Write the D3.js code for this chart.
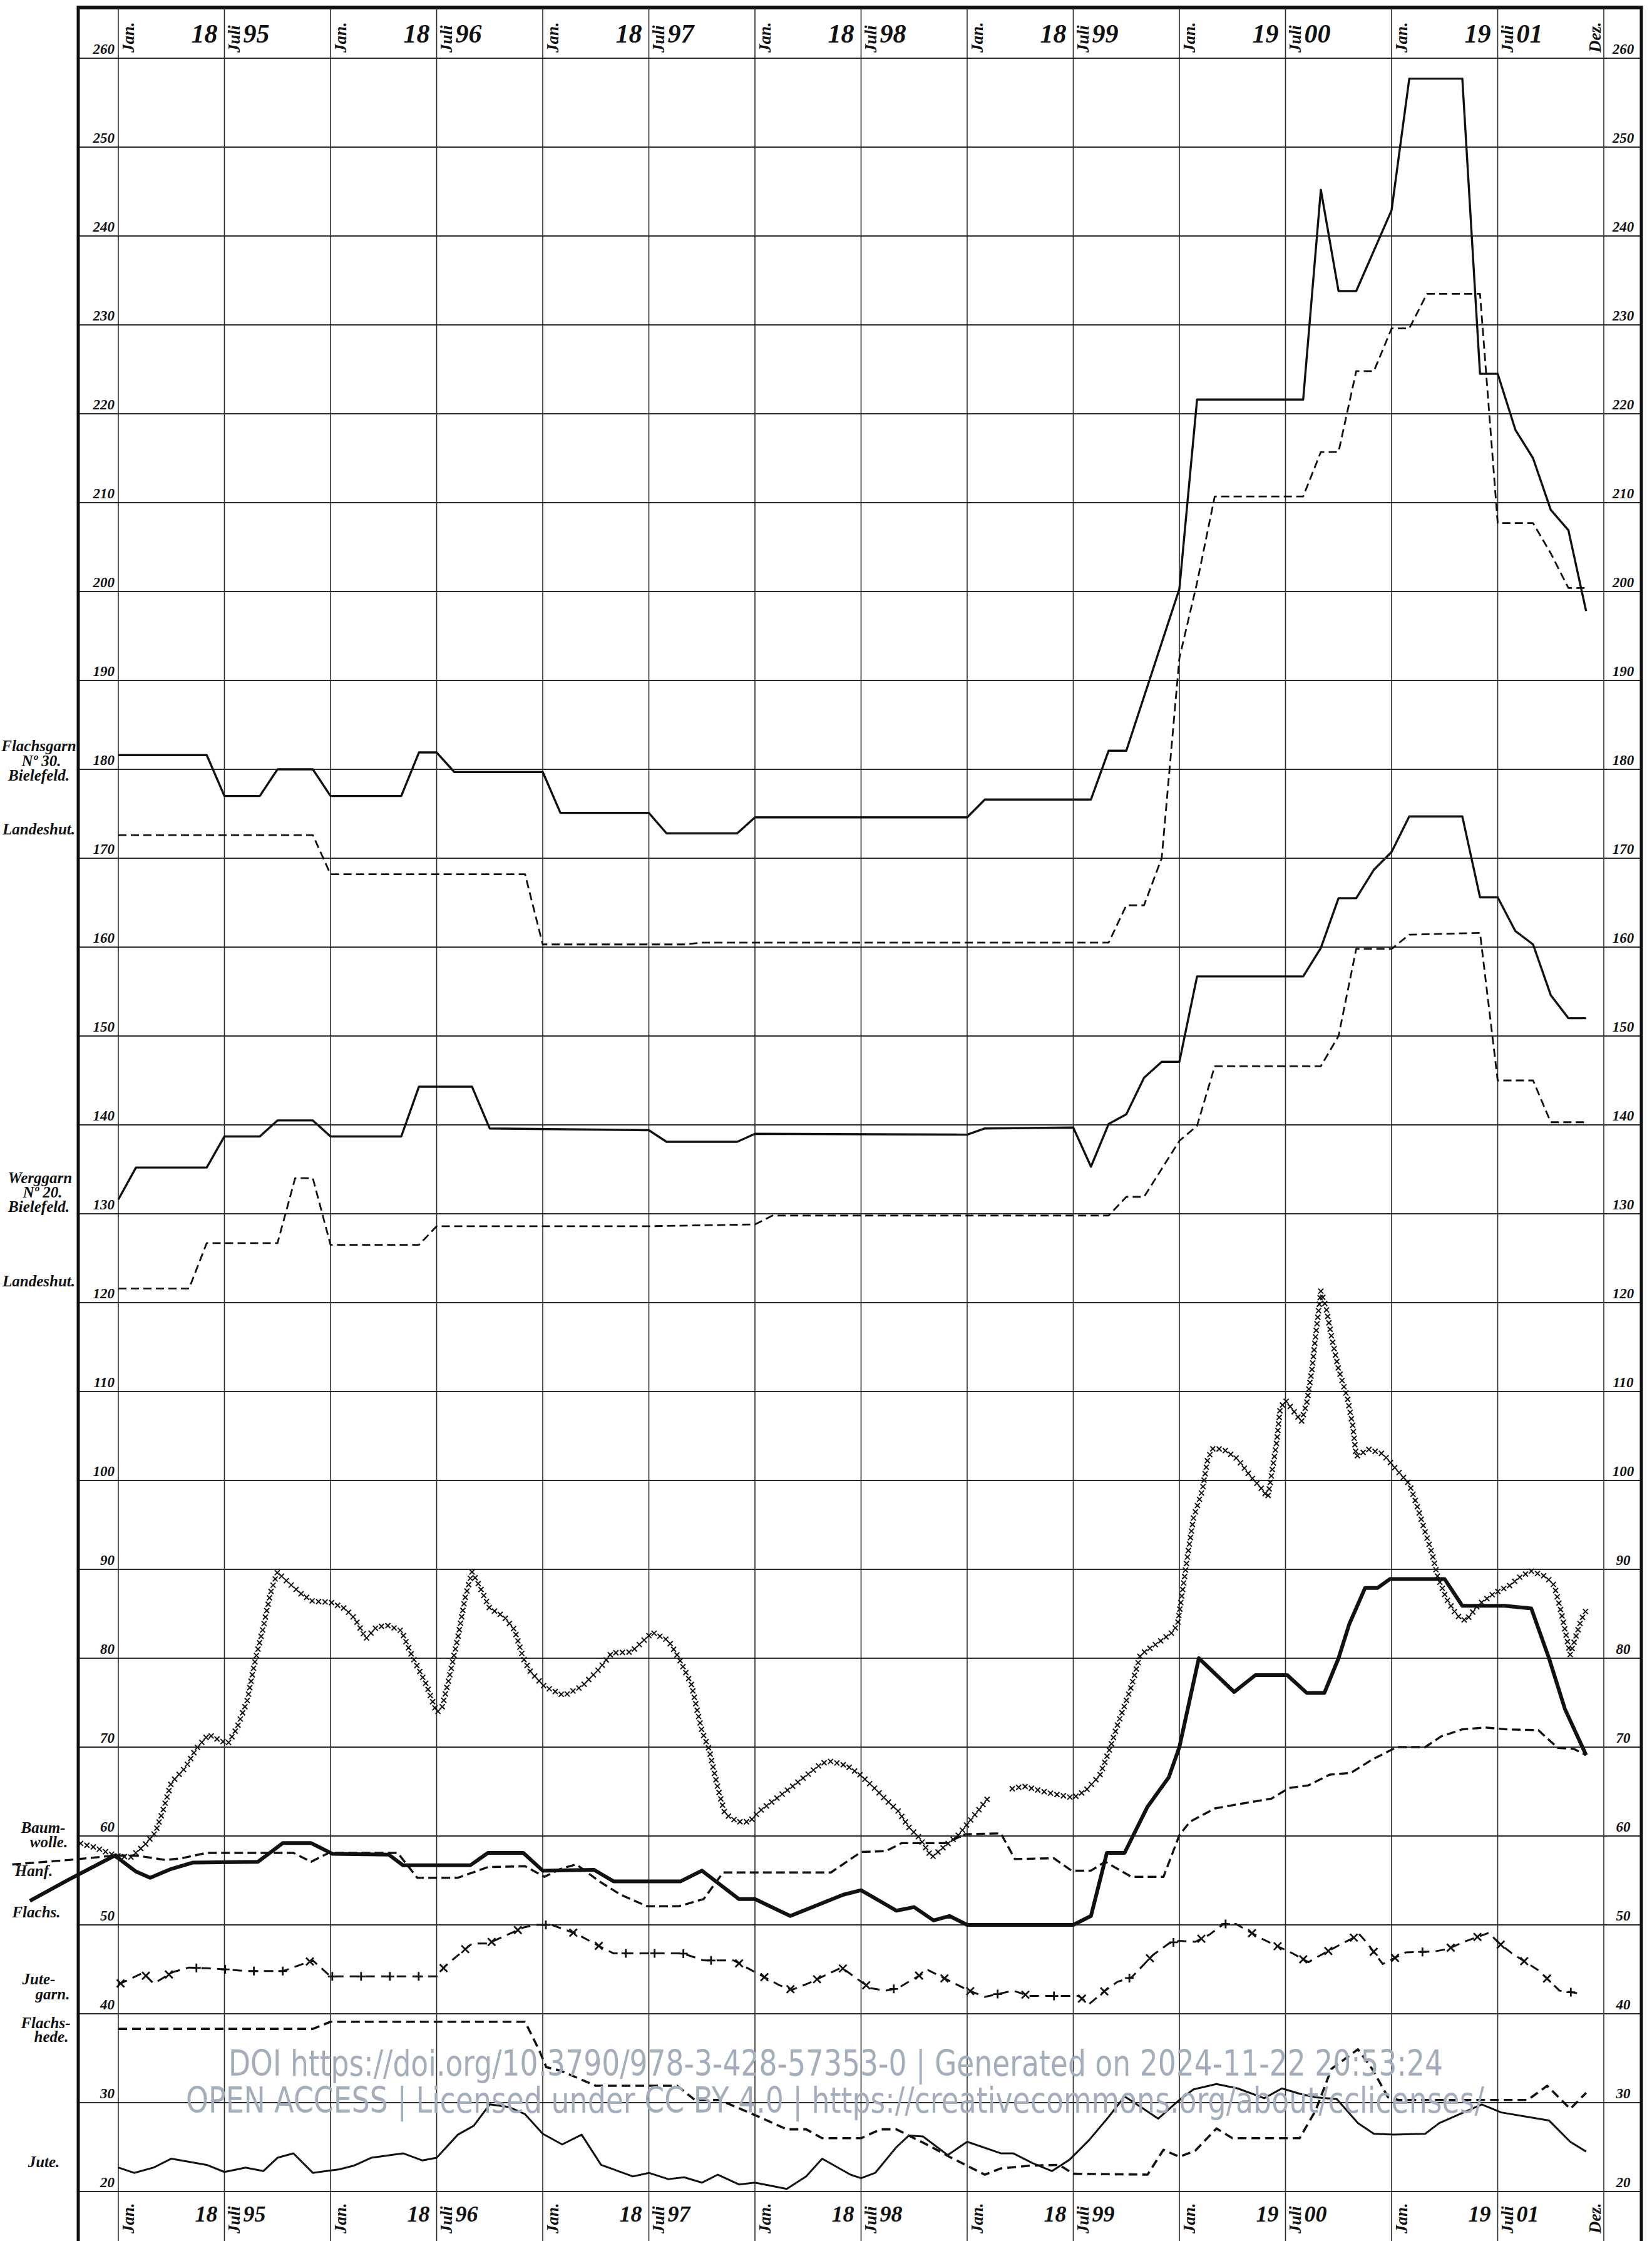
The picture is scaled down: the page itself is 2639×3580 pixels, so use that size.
<!DOCTYPE html>
<html>
<head>
<meta charset="utf-8">
<script src="https://cdn.jsdelivr.net/npm/d3@7"></script>
<style>
  body { margin: 0; background: #fff; }
  text.plate { font-family: "Liberation Serif", "DejaVu Serif", serif; font-style: italic; font-weight: bold; fill: #111; }
  text.stamp { font-family: "DejaVu Sans", "Open Sans", sans-serif; font-style: normal; font-weight: normal; fill: #a3adbb; }
</style>
</head>
<body>
<div id="chart"></div>
<script>
// month index: 0 = Jan. 1895 ... 83 = Dez. 1901
const flachsgarnBielefeld = [[0,181.6],[5,181.6],[6,177],[8,177],[9,180],[11,180],[12,177],[16,177],[17,181.9],[18,181.9],[19,179.7],[24,179.7],[25,175.1],[30,175.1],[31,172.8],[35,172.8],[36,174.6],[48,174.6],[49,176.6],[55,176.6],[56,182.1],[57,182.1],[60,200.3],[61,221.6],[67,221.6],[68,245.2],[69,233.8],[70,233.8],[72,242.9],[73,257.7],[76,257.7],[77,224.5],[78,224.5],[79,218.2],[80,215],[81,209.2],[82,206.9],[83,197.8]];

const flachsgarnLandeshut = [[0,172.6],[11,172.6],[12,168.2],[23,168.2],[24,160.3],[32,160.3],[33,160.5],[56,160.5],[57,164.7],[58,164.7],[59,170],[60,192.5],[61,201],[62,210.7],[67,210.7],[68,215.7],[69,215.7],[70,224.8],[71,224.8],[72,229.6],[73,229.6],[74,233.5],[77,233.5],[78,207.7],[80,207.7],[81,204.3],[82,200.4],[83,200.4]];

const werggarnBielefeld = [[0,131.6],[1,135.2],[5,135.2],[6,138.7],[8,138.7],[9,140.5],[11,140.5],[12,138.7],[16,138.7],[17,144.3],[20,144.3],[21,139.6],[30,139.4],[31,138.1],[35,138.1],[36,139],[48,138.9],[49,139.6],[54,139.7],[55,135.3],[56,140.1],[57,141.2],[58,145.3],[59,147.1],[60,147.1],[61,156.7],[67,156.7],[68,159.9],[69,165.5],[70,165.5],[71,168.7],[72,170.7],[73,174.7],[76,174.7],[77,165.6],[78,165.6],[79,161.8],[80,160.3],[81,154.6],[82,152],[83,152]];

const werggarnLandeshut = [[0,121.6],[4,121.6],[5,126.7],[9,126.7],[10,134],[11,134],[12,126.5],[17,126.5],[18,128.6],[30,128.6],[36,128.8],[37,129.8],[56,129.8],[57,131.9],[58,131.9],[60,138.2],[61,139.9],[62,146.6],[68,146.6],[69,150],[70,159.8],[72,159.8],[73,161.4],[77,161.6],[78,145],[80,145],[81,140.3],[83,140.3]];

const baumwolle = [[-2.2,59.2],[-1.3,58.7],[-0.2,57.8],[0.7,57.6],[1.5,59],[2.1,60.4],[2.5,62.7],[3,66],[3.8,67.7],[4.4,69.8],[5.1,71.4],[5.7,70.8],[6.2,70.4],[6.7,72.1],[7.3,75.3],[7.7,79.4],[8.2,83.5],[8.6,87.3],[9,89.7],[9.4,88.9],[10.3,87.3],[11,86.4],[12,86.3],[12.8,85.6],[13.4,84.4],[14,82.2],[14.6,83.5],[15.2,83.7],[16,83.1],[16.6,80.3],[17.4,77.1],[18,73.9],[18.3,74.4],[18.7,77.7],[19.2,82.3],[19.6,86.7],[20,89.7],[20.4,88.2],[21,85.6],[21.8,84.7],[22.4,83.2],[22.9,80],[23.3,78.5],[24.1,76.8],[25.2,75.8],[26.2,76.8],[27.2,78.8],[27.9,80.6],[29,80.7],[29.6,81.8],[30.2,82.9],[31.1,82],[31.7,80],[32.4,77.1],[33,71.8],[33.4,69.8],[33.9,65.4],[34.3,62.5],[35,61.6],[35.7,61.6],[36.2,62.7],[37.2,64.2],[38.2,65.7],[39.1,67.1],[39.8,68.2],[40.3,68.4],[41.2,67.9],[42,66.8],[42.8,65.3],[43.4,64.1],[44.1,62.8],[44.7,61],[45.3,59.8],[46,57.6],[46.7,58.8],[47.5,60.1],[48.2,61.8],[49.2,64.3],[49.7,null],[50.3,65.2],[51.2,65.6],[52.5,64.9],[54,64.3],[54.7,65.1],[55.5,66.8],[56.1,70],[56.5,72.5],[57.2,76.3],[57.8,80.4],[58.7,81.6],[59.6,82.9],[59.9,83.8],[60.2,87.9],[60.5,92],[60.8,95.8],[61.3,98.9],[61.6,102.4],[61.9,103.6],[62.5,103.5],[63.3,102.4],[64,100.5],[64.6,99.2],[65,98.1],[65.2,100.5],[65.5,104.3],[65.7,108.1],[66,109],[66.5,107.7],[66.9,106.6],[67.2,108.7],[67.5,112.5],[67.7,116.2],[68,121.3],[68.3,119.4],[68.6,116.2],[69,112.5],[69.5,109.3],[69.8,106.2],[70,102.7],[70.7,103.5],[71.5,103],[72.2,101.4],[73,99.6],[73.4,97.4],[73.9,94.2],[74.3,91.7],[74.6,89.2],[75.1,86.7],[75.7,84.8],[76.2,84.2],[76.9,86],[77.8,87.3],[78.7,88.2],[79.3,89.2],[79.9,89.8],[80.7,89.2],[81.2,88.2],[81.6,85.1],[81.9,82.3],[82.1,80.4],[82.4,82.3],[82.7,84.2],[83,85.4]];

const hanf = [[-6,56.8],[-2.8,57.3],[-0.2,57.8],[1,57.8],[2.7,57.3],[3.6,57.5],[5,58.1],[9.9,58.1],[10.9,57.1],[11.9,58.1],[15.8,58.1],[16.9,55.3],[19.2,55.3],[20.9,56.5],[23,56.6],[24.1,55.4],[25,56.3],[25.9,56.8],[27.2,54.9],[28.4,53.4],[29.9,52.1],[31.7,52.1],[33.1,52.9],[34.2,55.9],[40.3,55.9],[42,58.2],[43.4,58.3],[44.3,59.2],[46.8,59.2],[47.9,60.2],[49.9,60.3],[50.7,57.4],[52.9,57.5],[53.9,56.1],[55,56.1],[55.8,57.1],[57.3,55.4],[59.1,55.4],[60,60.1],[60.6,61.6],[62,63.1],[63.4,63.6],[65.2,64.2],[66.2,65.4],[67.3,65.7],[68.5,66.9],[69.7,67.1],[70.9,68.6],[72.3,70],[73.9,70],[74.8,71.2],[76,72],[77.3,72.2],[78.5,72],[80.3,71.9],[81.4,69.9],[82.3,69.8],[83,69.1]];

const flachs = [[-5,52.7],[-2.8,55.1],[-0.2,57.8],[1,56],[1.8,55.3],[3,56.3],[4.2,57],[7.9,57.1],[9.3,59.2],[10.9,59.2],[12.1,58],[15.3,57.9],[16.1,56.7],[19.9,56.7],[20.9,58.1],[22.9,58.1],[24,56.1],[26.9,56.2],[28,54.9],[31.8,54.9],[33,56.1],[35.1,52.9],[36,52.9],[38,51],[41,53.4],[42,53.9],[44,51.6],[45,52],[46.1,50.5],[47,51],[48,50],[54,50],[55,51],[55.9,58.1],[56.9,58.1],[58.2,63.3],[59.4,66.6],[60,70],[61.1,80],[63.1,76.2],[64.3,78.1],[66.1,78.1],[67.2,76.1],[68.2,76.1],[69,80],[69.6,83.8],[70.5,87.9],[71.2,87.9],[71.9,88.9],[75,88.9],[76,85.9],[78.4,85.9],[79.9,85.6],[80.9,80],[81.8,74.3],[83,69.1]];

const jutegarn = [[0,43.3],[1.4,44.6],[2,43.4],[3.1,44.7],[4,45.2],[5.2,45.1],[6,45],[7.2,44.8],[9.3,44.8],[11,46],[12,44.2],[18,44.2],[18.5,45.4],[20,47.9],[20.9,47.9],[22.9,49.7],[23.6,50],[24.5,50],[25.9,49],[27.2,47.6],[28,46.8],[31.9,46.8],[33.1,46],[34.8,46],[35.8,44.9],[37.4,43.2],[38.1,42.7],[39,43.4],[40.9,45.2],[42.5,42.9],[43.4,42.6],[44.1,42.9],[45.8,44.9],[47.3,43.4],[48.1,42.6],[49,41.9],[50.6,42.6],[51.5,42],[54.3,42],[54.9,41.1],[55.8,42.6],[56.5,43.6],[57.3,44.1],[58.5,46.6],[59.4,47.9],[60,48.2],[60.9,48.1],[61.7,48.9],[62.5,50.1],[63.2,50.1],[64.7,48.4],[66.4,46.8],[67.3,45.8],[67.9,46.5],[69.3,48],[70.2,48.9],[70.6,48],[71.5,45.6],[72.8,46.9],[74.4,47],[75.2,47.3],[76.1,48.1],[77.5,49.1],[78.1,47.9],[78.8,46.8],[80.3,44.9],[81.5,42.6],[82.6,42.3]];

const flachshede = [[0,38.3],[11,38.3],[12,39.1],[23,39.1],[23.8,35.9],[24.2,34],[25,33.6],[27,31.9],[31.6,31.9],[32.6,30.3],[34,30.3],[36,28.6],[37.8,27],[38.9,27],[39.8,26],[42,26],[43.1,27],[44,27],[45.9,25.1],[47,23.9],[48,22.9],[49,21.9],[49.9,22.6],[51.5,22.9],[53.2,23],[54,22],[58.2,21.9],[59.1,24.7],[60,23.9],[60.9,24.6],[62.1,27.1],[63,26],[66.8,26],[67.7,29.1],[68.6,33.8],[70.1,36],[70.9,33.8],[71.8,30.6],[72.4,30.3],[79.7,30.3],[80.8,31.9],[82.1,29.3],[83,31.1]];

const jute = [[0,22.7],[0.9,22.1],[2,22.7],[3,23.7],[5,23],[6,22.2],[7.2,22.7],[8.2,22.3],[9,23.8],[9.9,24.3],[11,22.1],[12.5,22.5],[13.3,22.9],[14.3,23.8],[16.1,24.3],[17.2,23.5],[18,23.8],[19.2,26.4],[20.1,27.4],[21,29.8],[22.1,29.5],[23,28.7],[24,26.5],[25.1,25.3],[26.2,26.4],[27.3,23],[29.1,21.7],[30,22.1],[31.1,21.4],[32,21.6],[33,21],[33.9,21.9],[35.1,20.8],[36,21],[37.8,20.3],[38.9,21.7],[39.8,23.7],[41.4,21.9],[42,21.5],[42.8,22.1],[44,25],[44.7,26.3],[45.5,26.2],[46.9,24.1],[48,25.6],[49.9,24.3],[50.6,24.3],[51.7,23.2],[52.8,22.3],[53.8,23.6],[54.9,25.8],[56,28.4],[56.9,30.7],[57.9,29.4],[58.8,28.2],[60,30.3],[60.8,31.5],[62.1,32.1],[63.3,31.6],[64.8,30.5],[65.8,31.6],[66.8,31],[67.7,30.6],[68.9,30.4],[70.1,27.7],[71,26.5],[72.1,26.4],[73.9,26.5],[74.7,27.7],[77.1,29.8],[78.2,28.9],[79.7,28.4],[80.9,28],[82.1,25.6],[83,24.5]];

// header / axis text
const centuries = ["18", "18", "18", "18", "18", "19", "19"];
const years = ["95", "96", "97", "98", "99", "00", "01"];
const valueTicks = d3.range(20, 261, 10);

// series names written in the left margin: [text, center x, baseline y]
const seriesLabels = [
    ["Flachsgarn", 62, 1200], ["N\u00BA 30.", 66, 1224], ["Bielefeld.", 62, 1247],
    ["Landeshut.", 62, 1333],
    ["Werggarn", 64, 1890], ["N\u00BA 20.", 68, 1913], ["Bielefeld.", 62, 1936],
    ["Landeshut.", 62, 2055],
    ["Baum-", 69, 2928], ["wolle.", 78, 2951],
    ["Hanf.", 54, 2997],
    ["Flachs.", 58, 3063],
    ["Jute-", 62, 3170], ["garn.", 84, 3194],
    ["Flachs-", 73, 3240], ["hede.", 82, 3262],
    ["Jute.", 70, 3462]
];

// repository stamp lines: [text, left x, baseline y, width]
const stampLines = [
    ["DOI https://doi.org/10.3790/978-3-428-57353-0 | Generated on 2024-11-22 20:53:24", 365, 3316, 1940],
    ["OPEN ACCESS | Licensed under CC BY 4.0 | https://creativecommons.org/about/cclicenses/", 297, 3375, 2074]
];

const W = 2639, H = 3580;
const frame = { left: 125, right: 2622, top: 12 };

const x = d3.scaleLinear().domain([0, 84]).range([189, 2562]);
const y = d3.scaleLinear().domain([20, 260]).range([3501, 93]);

const svg = d3.select("#chart").append("svg")
    .attr("width", W)
    .attr("height", H)
    .style("display", "block")
    .style("background", "#fff");

// grid
const grid = svg.append("g").attr("stroke", "#2a2a2a").attr("fill", "none");
grid.selectAll(".h").data(valueTicks).enter().append("line")
    .attr("x1", frame.left).attr("x2", frame.right)
    .attr("y1", d => y(d)).attr("y2", d => y(d))
    .attr("stroke-width", 1.8);
grid.selectAll(".v").data(d3.range(0, 85, 6)).enter().append("line")
    .attr("x1", d => x(d)).attr("x2", d => x(d))
    .attr("y1", frame.top).attr("y2", H)
    .attr("stroke-width", 1.6);

// frame
svg.append("line").attr("x1", frame.left).attr("x2", frame.left).attr("y1", frame.top - 3).attr("y2", H)
    .attr("stroke", "#111").attr("stroke-width", 5);
svg.append("line").attr("x1", frame.right).attr("x2", frame.right).attr("y1", frame.top - 3).attr("y2", H)
    .attr("stroke", "#111").attr("stroke-width", 5);
svg.append("line").attr("x1", frame.left - 2).attr("x2", frame.right + 2).attr("y1", frame.top).attr("y2", frame.top)
    .attr("stroke", "#111").attr("stroke-width", 6);

// value labels, both sides
svg.append("g").selectAll("text").data(valueTicks).enter().append("text")
    .attr("class", "plate")
    .attr("x", 183).attr("y", d => y(d) - 7)
    .attr("text-anchor", "end").attr("font-size", 23)
    .text(d => d);
svg.append("g").selectAll("text").data(valueTicks).enter().append("text")
    .attr("class", "plate")
    .attr("x", 2593).attr("y", d => y(d) - 7)
    .attr("text-anchor", "middle").attr("font-size", 23)
    .text(d => d);

// month / year header, top and bottom
function header(base, yearBase, monthSize, yearSize) {
    const g = svg.append("g");
    years.forEach((yr, i) => {
        const jan = x(12 * i), juli = x(12 * i + 6);
        g.append("text").attr("class", "plate")
            .attr("transform", `translate(${jan + 25},${base}) rotate(-90)`)
            .attr("font-size", monthSize).text("Jan.");
        g.append("text").attr("class", "plate")
            .attr("transform", `translate(${juli + 24},${base}) rotate(-90)`)
            .attr("font-size", monthSize).text("Juli");
        g.append("text").attr("class", "plate")
            .attr("x", juli - 11).attr("y", yearBase)
            .attr("text-anchor", "end").attr("font-size", yearSize).text(centuries[i]);
        g.append("text").attr("class", "plate")
            .attr("x", juli + 30).attr("y", yearBase)
            .attr("font-size", yearSize).text(yr);
    });
    g.append("text").attr("class", "plate")
        .attr("transform", `translate(${x(84) - 5},${base}) rotate(-90)`)
        .attr("font-size", monthSize).text("Dez.");
}
header(84, 68, 27, 42);
header(3568, 3549, 27, 36);

// series lines
const line = d3.line()
    .defined(d => d[1] != null)
    .x(d => x(d[0]))
    .y(d => y(d[1]));

const styles = [
    { data: flachsgarnBielefeld, width: 3.4 },
    { data: flachsgarnLandeshut, width: 2.8, dash: "13 7" },
    { data: werggarnBielefeld, width: 3.4 },
    { data: werggarnLandeshut, width: 2.8, dash: "13 7" },
    { data: hanf, width: 3.4, dash: "14 7" },
    { data: flachs, width: 6 },
    { data: jutegarn, width: 3, dash: "15 10" },
    { data: flachshede, width: 3.6, dash: "14 8" },
    { data: jute, width: 3 }
];

const lines = svg.append("g").attr("fill", "none").attr("stroke", "#111")
    .attr("stroke-linejoin", "round");
styles.forEach(s => {
    lines.append("path")
        .attr("d", line(s.data))
        .attr("stroke-width", s.width)
        .attr("stroke-dasharray", s.dash || null);
});

// points along a drawn path, with the local direction
function pointsAlong(node, step, offset) {
    const len = node.getTotalLength();
    const pts = [];
    for (let s = offset; s <= len; s += step) {
        const p = node.getPointAtLength(s);
        const a = node.getPointAtLength(Math.max(0, s - 3));
        const b = node.getPointAtLength(Math.min(len, s + 3));
        pts.push({ x: p.x, y: p.y, angle: Math.atan2(b.y - a.y, b.x - a.x) });
    }
    return pts;
}
const cross = s => `M${-s},${-s}L${s},${s}M${-s},${s}L${s},${-s}`;
const plus = s => `M${-s},0L${s},0M0,${-s}L0,${s}`;

// Baumwolle: row of small crosses only
const bwPath = svg.append("path").attr("d", line(baumwolle)).attr("fill", "none").attr("stroke", "none");
svg.append("g").attr("stroke", "#111").attr("stroke-width", 2).attr("fill", "none")
    .selectAll("path").data(pointsAlong(bwPath.node(), 10.5, 2)).enter().append("path")
    .attr("transform", d => `translate(${d.x},${d.y})`)
    .attr("d", cross(4));

// Jutegarn: marks on the dashed line, + on flat stretches, x on slopes
const jgPath = svg.append("path").attr("d", line(jutegarn)).attr("fill", "none").attr("stroke", "none");
svg.append("g").attr("stroke", "#111").attr("stroke-width", 2.8).attr("fill", "none")
    .selectAll("path").data(pointsAlong(jgPath.node(), 46, 4)).enter().append("path")
    .attr("transform", d => `translate(${d.x},${d.y})`)
    .attr("d", d => Math.abs(Math.sin(d.angle)) < 0.3 ? plus(7) : cross(6));

// series names
svg.append("g").selectAll("text").data(seriesLabels).enter().append("text")
    .attr("class", "plate")
    .attr("x", d => d[1]).attr("y", d => d[2])
    .attr("text-anchor", "middle").attr("font-size", 25)
    .text(d => d[0]);

// repository stamp over the plate: narrow glyphs stretched upward
svg.append("g").selectAll("text").data(stampLines).enter().append("text")
    .attr("class", "stamp")
    .attr("transform", d => `translate(${d[1]},${d[2]}) scale(1,1.38)`)
    .attr("textLength", d => d[3]).attr("lengthAdjust", "spacingAndGlyphs")
    .attr("font-size", 41)
    .text(d => d[0]);
</script>
</body>
</html>
